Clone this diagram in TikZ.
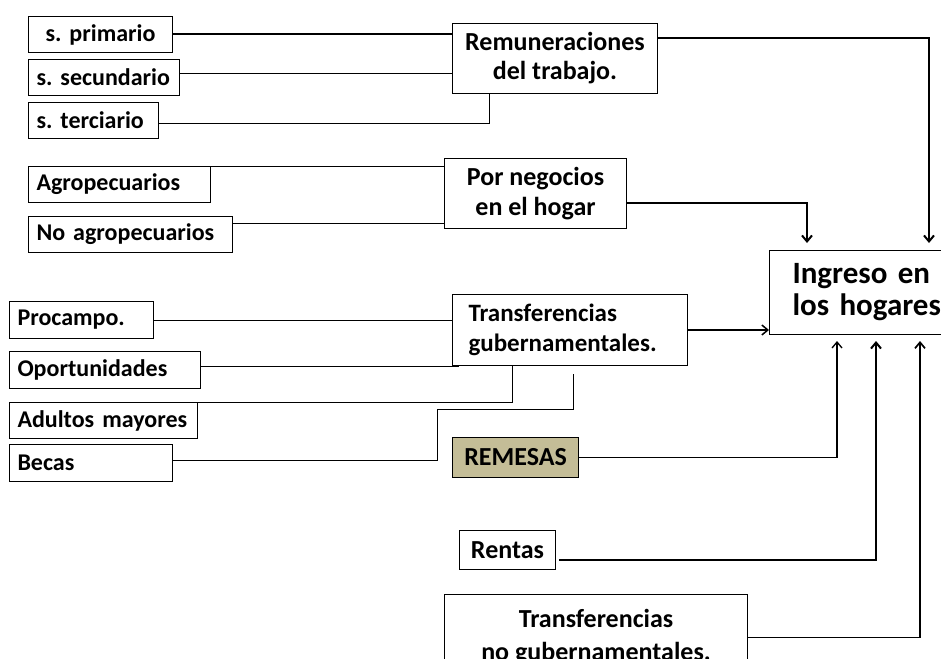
\documentclass[tikz,border=0pt]{standalone}
\usepackage{fontspec}
\setmainfont{Carlito}
\usetikzlibrary{arrows.meta}
\definecolor{remesas}{HTML}{C4BD97}
\frenchspacing

\begin{document}
\begin{tikzpicture}
  [
    x = 1pt, y = -1pt,
    box/.style = {draw, line width=1pt, anchor=north west, inner ysep=0pt, font=\bfseries},
    leaf/.style = {box, inner xsep=8pt, text width=#1, align=left, minimum height=36pt,
                   font=\fontsize{24}{28}\selectfont\bfseries},
    group/.style = {box, align=center, font=\fontsize{26}{29}\selectfont\bfseries},
    link/.style = {line width=1pt},
    flow/.style = {line width=2pt, -{Straight Barb[length=6pt,width=10pt]}, shorten >=7pt}
  ]
  \useasboundingbox (0,0) rectangle (941,658);

  % sources of the income
  \node[leaf=128pt, align=center] (prim) at (28,16) {s. primario};
  \node[leaf=135pt, inner xsep=8pt] (secu) at (28,59) {s. secundario};
  \node[leaf=114pt] (terc) at (28,102) {s. terciario};
  \node[group, minimum width=205pt, minimum height=70pt] (remun) at (452,23) {Remuneraciones\\del trabajo.};

  \node[leaf=166pt] (agro) at (28,166) {Agropecuarios};
  \node[leaf=188pt] (noagro) at (28,216) {No agropecuarios};
  \node[group, minimum width=182pt, minimum height=70pt, font=\fontsize{26}{30}\selectfont\bfseries] (negoc) at (444,158) {Por negocios\\en el hogar};

  \node[leaf=128pt, minimum height=37pt] (procampo) at (9,301) {Procampo.};
  \node[leaf=175pt, minimum height=37pt] (oport) at (9,351) {Oportunidades};
  \node[leaf=172pt] (adultos) at (9,402) {Adultos mayores};
  \node[leaf=147pt, minimum height=37pt] (becas) at (9,444) {Becas};
  \node[box, inner xsep=16pt, text width=203pt, align=left, minimum height=71pt,
        font=\fontsize{25}{30}\selectfont\bfseries] (transg) at (452,294) {Transferencias\\gubernamentales.};

  \node[group, fill=remesas, minimum width=126pt, minimum height=40pt] (remesas) at (452,437) {REMESAS};
  \node[group, minimum width=96pt, minimum height=39pt] (rentas) at (459,530) {Rentas};
  \node[group, minimum width=303pt, minimum height=86pt,
        font=\fontsize{26}{33}\selectfont\bfseries] (transng) at (444,594) {Transferencias\\no gubernamentales.};

  \node[box, inner xsep=23pt, text width=150pt, align=left, minimum height=84pt,
        font=\fontsize{31}{32}\selectfont\bfseries] (ingreso) at (769,250) {Ingreso en\\los hogares};

  % feeding lines
  \draw[link, line width=2pt] (prim.east) -- (prim.east -| remun.west);
  \draw[link] ([yshift=4pt]secu.east) -- ([yshift=4pt]secu.east -| remun.west);
  \draw[link] ([yshift=-3pt]terc.east) -| ([xshift=37pt]remun.south west);
  \draw[link] (agro.north east) -- (agro.north east -| negoc.west);
  \draw[link] ([yshift=11pt]noagro.east) -- ([yshift=11pt]noagro.east -| negoc.west);
  \draw[link] (procampo.east) -- (procampo.east -| transg.west);
  \draw[link] (oport.east |- transg.south) -- ([xshift=7pt]transg.south west);
  \draw[link] (adultos.north east) -| ([xshift=60pt]transg.south west);
  \coordinate (becasK) at (437,409);
  \coordinate (becasT) at ([xshift=121pt,yshift=-8pt]transg.south west);
  \draw[link] ([yshift=3pt]becas.east) -| (becasK) -| (becasT);

  % arrows into the total
  \draw[flow] ([yshift=20pt]remun.east) -| ([xshift=160pt]ingreso.north west);
  \draw[flow] ([yshift=-9pt]negoc.east) -| ([xshift=38pt]ingreso.north west);
  \draw[flow, line width=1.5pt, shorten >=0pt] (transg.east) -- (transg.east -| ingreso.west);
  \draw[flow, line width=1.3pt, shorten >=6pt] (remesas.east) -| ([xshift=68pt]ingreso.south west);
  \draw[flow, shorten >=6pt] ([xshift=3pt,yshift=-9.5pt]rentas.east) -| ([xshift=107pt]ingreso.south west);
  \draw[flow, line width=1.7pt, shorten >=6pt] (transng.east) -| ([xshift=151pt]ingreso.south west);
\end{tikzpicture}
\end{document}
